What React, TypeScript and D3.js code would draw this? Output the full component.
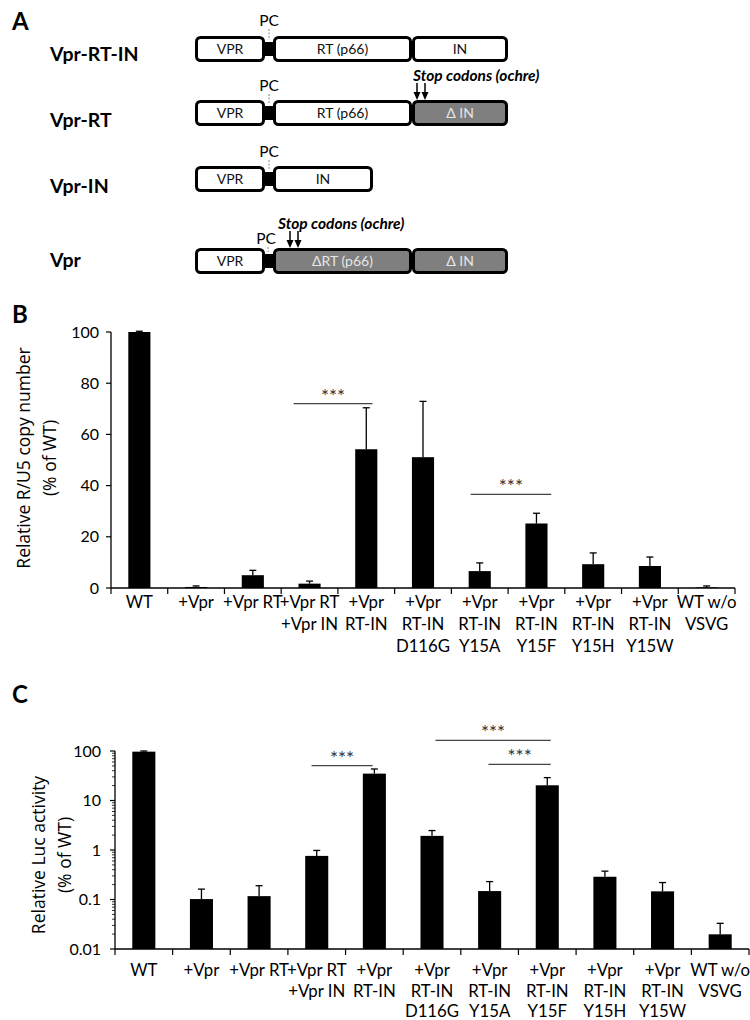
import React from "react";
import * as d3 from "d3";

// ---------- Panel A data ----------
const constructNames = ["Vpr-RT-IN", "Vpr-RT", "Vpr-IN", "Vpr"];
// segment relative lengths (arbitrary units) and deletion state
const constructSegments = [
  [{ label: "VPR", len: 70, del: false }, { label: "RT (p66)", len: 139, del: false }, { label: "IN", len: 96, del: false }],
  [{ label: "VPR", len: 70, del: false }, { label: "RT (p66)", len: 139, del: false }, { label: "\u0394 IN", len: 96, del: true }],
  [{ label: "VPR", len: 70, del: false }, { label: "IN", len: 100, del: false }],
  [{ label: "VPR", len: 70, del: false }, { label: "\u0394RT (p66)", len: 139, del: true }, { label: "\u0394 IN", len: 96, del: true }],
];
// index of the segment whose start carries stop codons (-1 none)
const stopCodonSegment = [-1, 2, -1, 1];

// ---------- Panel B/C data ----------
const categories = [
  ["WT"],
  ["+Vpr"],
  ["+Vpr RT"],
  ["+Vpr RT", "+Vpr IN"],
  ["+Vpr", "RT-IN"],
  ["+Vpr", "RT-IN", "D116G"],
  ["+Vpr", "RT-IN", "Y15A"],
  ["+Vpr", "RT-IN", "Y15F"],
  ["+Vpr", "RT-IN", "Y15H"],
  ["+Vpr", "RT-IN", "Y15W"],
  ["WT w/o", "VSVG"],
];
const copyNumber = [100, 0.4, 5.0, 1.7, 54.2, 51.1, 6.6, 25.2, 9.3, 8.6, 0.25];
const copyNumberErr = [0.3, 0.4, 1.9, 1.0, 16.2, 21.8, 3.2, 4.0, 4.4, 3.5, 0.55];
const copyTicks = [0, 20, 40, 60, 80, 100];
const copySig = [
  { from: 3.22, to: 4.61, value: 72 },
  { from: 6.34, to: 7.76, value: 36.6 },
];

const lucActivity = [97, 0.102, 0.117, 0.76, 34.9, 1.93, 0.148, 20.3, 0.288, 0.146, 0.0198];
const lucErr = [3, 0.06, 0.073, 0.22, 8.4, 0.54, 0.082, 8.7, 0.086, 0.074, 0.0132];
const lucTicks = [0.01, 0.1, 1, 10, 100];
const lucTickLabels = ["0.01", "0.1", "1", "10", "100"];
const lucSig = [
  { from: 3.41, to: 4.47, value: 50.6 },
  { from: 5.56, to: 7.56, value: 164 },
  { from: 6.48, to: 7.56, value: 53.8 },
];

const NARROW = "Lato, 'DejaVu Sans Condensed', sans-serif";
const TITLE = "'Open Sans', 'Noto Sans', sans-serif";
const GRAY = "#7f7f7f";

function PanelA() {
  const boxTops = [36, 100, 166, 248];
  const labelY = [61, 127, 193, 267];
  const pcDy = [-15, -14, -14, -9];
  const pcDx = [0, 0, 0, -3];
  const boxH = 26;
  const x0 = 195;
  const linker = 8;
  const unit = d3.scaleLinear().domain([0, 1]).range([0, 1]);
  return (
    <g>
      <text x={12} y={30} fontFamily={NARROW} fontWeight="bold" fontSize={24}>A</text>
      {constructNames.map((name, r) => {
        const segs = constructSegments[r];
        const top = boxTops[r];
        let cursor = x0;
        const rects = segs.map((s, i) => {
          const start = cursor;
          const w = unit(s.len);
          cursor = start + w + (i === 0 ? linker : 0);
          return { ...s, start, w };
        });
        const linkX = rects[0].start + rects[0].w;
        const stopIdx = stopCodonSegment[r];
        const stopX = stopIdx >= 0 ? rects[stopIdx].start : 0;
        return (
          <g key={name}>
            <text x={50} y={labelY[r]} fontFamily={NARROW} fontWeight="bold" fontSize={19.5}>{name}</text>
            <rect x={linkX - 2} y={top + boxH / 2 - 7} width={linker + 4} height={14} fill="#000" />
            {rects.map((s, i) => (
              <g key={i}>
                <rect x={s.start + 1.5} y={top + 1.5} width={s.w - 3} height={boxH - 3} rx={4} ry={4}
                  fill={s.del ? GRAY : "#fff"} stroke="#000" strokeWidth={3} />
                <text x={s.start + s.w / 2} y={top + boxH / 2 + 5} textAnchor="middle"
                  fontFamily={NARROW} fontSize={14} fill={s.del ? "#e6e6e6" : "#111"}>{s.label}</text>
              </g>
            ))}
            <text x={linkX + linker / 2 + pcDx[r]} y={top + pcDy[r] + 5} textAnchor="middle"
              fontFamily={NARROW} fontSize={15.5}>PC</text>
            <line x1={linkX + linker / 2 + (r === 3 ? -1 : 0)} x2={linkX + linker / 2 + (r === 3 ? -1 : 0)}
              y1={top + pcDy[r] + 8} y2={top + 4} stroke="#888" strokeWidth={1} strokeDasharray="2,1.5" />
            {stopIdx >= 0 && (
              <g>
                <text x={stopX + (r === 3 ? 5 : 1)} y={top - 19} fontFamily={NARROW} fontWeight="bold"
                  fontStyle="italic" fontSize={15.5}>Stop codons (ochre)</text>
                {[0, 8].map((dx) => {
                  const ax = stopX + (r === 3 ? 17 : 5) + dx;
                  return (
                    <g key={dx}>
                      <line x1={ax} x2={ax} y1={top - 17} y2={top - 6} stroke="#000" strokeWidth={1.5} />
                      <path d={`M${ax - 3.5},${top - 8} L${ax + 3.5},${top - 8} L${ax},${top} Z`} fill="#000" />
                    </g>
                  );
                })}
              </g>
            )}
          </g>
        );
      })}
    </g>
  );
}

type Sig = { from: number; to: number; value: number };

function BarPanel(props: {
  letter: string; letterY: number;
  left: number; right: number; top: number; bottom: number;
  values: number[]; errs: number[]; log: boolean;
  ticks: number[]; tickLabels: string[]; sig: Sig[];
  title: string[]; titleX: number[]; titleY: number; labelY: number; lineGap: number;
  barFrac: number; tickLabelGap: number;
}) {
  const { left, right, top, bottom, values, errs, log } = props;
  const x = d3.scaleBand<number>().domain(d3.range(categories.length)).range([left, right]).padding(0);
  const xi = d3.scaleLinear().domain([0, categories.length]).range([left, right]);
  const y: any = log
    ? d3.scaleLog().domain([0.01, 100]).range([bottom, top])
    : d3.scaleLinear().domain([0, 100]).range([bottom, top]);
  const bw = x.bandwidth() * props.barFrac;
  const minor: number[] = [];
  if (log) {
    for (let e = -2; e < 2; e++) for (let m = 2; m <= 9; m++) minor.push(m * Math.pow(10, e));
  }
  return (
    <g>
      <text x={12} y={props.letterY} fontFamily={NARROW} fontWeight="bold" fontSize={24}>{props.letter}</text>
      {props.title.map((t, i) => (
        <text key={i} transform={`translate(${props.titleX[i]},${props.titleY}) rotate(-90)`} textAnchor="middle"
          fontFamily={TITLE} fontSize={17.5}>{t}</text>
      ))}
      {values.map((v, i) => {
        const cx = (x(i) as number) + x.bandwidth() / 2;
        const yt = y(v);
        const ye = y(v + errs[i]);
        return (
          <g key={i}>
            <rect x={cx - bw / 2} y={yt} width={bw} height={bottom - yt} fill="#000" />
            <line x1={cx} x2={cx} y1={yt} y2={ye} stroke="#000" strokeWidth={1.3} />
            <line x1={cx - 3.5} x2={cx + 3.5} y1={ye} y2={ye} stroke="#000" strokeWidth={1.3} />
          </g>
        );
      })}
      {/* y axis */}
      <line x1={left} x2={left} y1={top} y2={bottom} stroke="#000" strokeWidth={1.3} />
      {props.ticks.map((t, i) => (
        <g key={i}>
          <line x1={left - 5} x2={left} y1={y(t)} y2={y(t)} stroke="#000" strokeWidth={1.2} />
          <text x={left - props.tickLabelGap} y={y(t) + 5.5} textAnchor="end" fontFamily={NARROW} fontSize={16}>{props.tickLabels[i]}</text>
        </g>
      ))}
      {minor.map((t, i) => (
        <line key={i} x1={left - 3} x2={left} y1={y(t)} y2={y(t)} stroke="#000" strokeWidth={0.8} />
      ))}
      {/* x axis */}
      <line x1={left} x2={right} y1={bottom} y2={bottom} stroke="#000" strokeWidth={1.3} />
      {d3.range(categories.length + 1).map((i) => (
        <line key={i} x1={xi(i)} x2={xi(i)} y1={bottom} y2={bottom + 6} stroke="#000" strokeWidth={1.2} />
      ))}
      {categories.map((lines, i) => (
        <text key={i} textAnchor="middle" fontFamily={NARROW} fontSize={16.8}>
          {lines.map((l, j) => (
            <tspan key={j} x={(x(i) as number) + x.bandwidth() / 2} y={props.labelY + j * props.lineGap}>{l}</tspan>
          ))}
        </text>
      ))}
      {props.sig.map((s, i) => (
        <g key={i}>
          <line x1={xi(s.from)} x2={xi(s.to)} y1={y(s.value)} y2={y(s.value)} stroke="#444" strokeWidth={1.3} />
          <text x={(xi(s.from) + xi(s.to)) / 2} y={y(s.value) - 1} textAnchor="middle" fontFamily={NARROW}
            fontSize={19} fill="#333">***</text>
        </g>
      ))}
    </g>
  );
}

export default function App() {
  return (
    <svg width={750} height={1020} style={{ position: "absolute", left: 0, top: 0, background: "#fff" }}>
      <rect width={750} height={1020} fill="#fff" />
      <PanelA />
      <BarPanel letter="B" letterY={323} left={111} right={735} top={332} bottom={588}
        values={copyNumber} errs={copyNumberErr} log={false}
        ticks={copyTicks} tickLabels={copyTicks.map(String)} sig={copySig}
        title={["Relative R/U5 copy number", "(% of WT)"]} titleX={[30, 56]} titleY={458}
        labelY={608} lineGap={22} barFrac={0.39} tickLabelGap={12} />
      <BarPanel letter="C" letterY={703} left={115} right={749} top={751} bottom={949}
        values={lucActivity} errs={lucErr} log={true}
        ticks={lucTicks} tickLabels={lucTickLabels} sig={lucSig}
        title={["Relative Luc activity", "(% of WT)"]} titleX={[45, 71]} titleY={855}
        labelY={976} lineGap={20.5} barFrac={0.4} tickLabelGap={14} />
    </svg>
  );
}
